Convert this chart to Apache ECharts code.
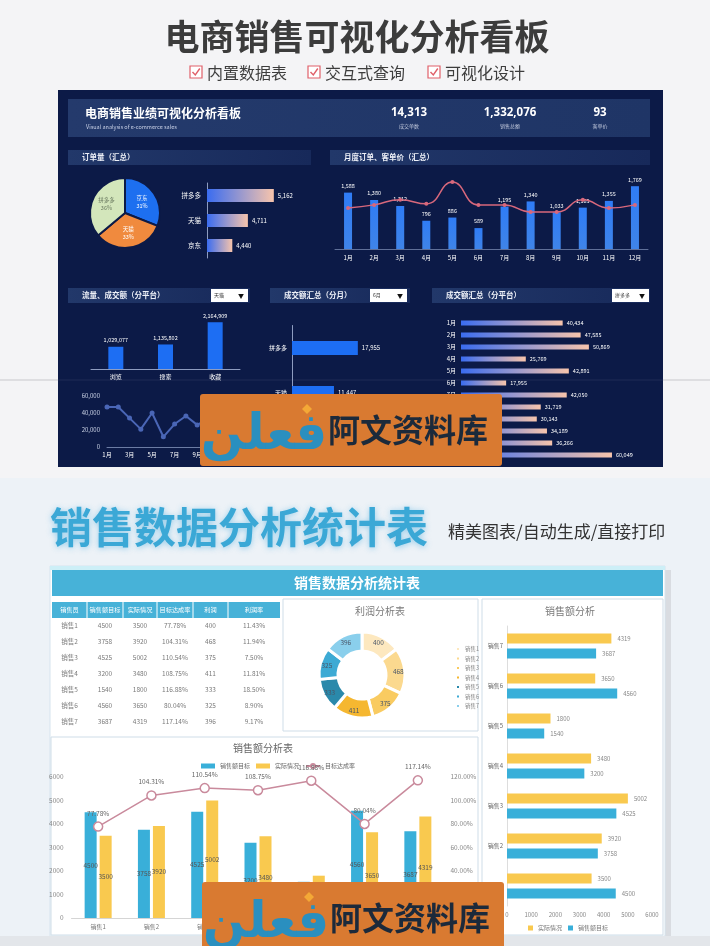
<!DOCTYPE html>
<html><head><meta charset="utf-8">
<script src="https://cdn.jsdelivr.net/npm/echarts@6/dist/echarts.min.js"></script>
<style>html,body{margin:0;padding:0;background:#f4f4f6}#c{width:710px;height:946px}</style>
</head><body><div id="c"></div>
<script>
// ---------- DATA ----------
const kpiValues = ['14,313', '1,332,076', '93'];
const kpiLabels = ['成交单数', '销售总额', '客单价'];
const platforms = ['拼多多', '天猫', '京东'];
const platformOrders = [5162, 4711, 4440];
const months = ['1月','2月','3月','4月','5月','6月','7月','8月','9月','10月','11月','12月'];
const monthOrders = [1588, 1380, 1212, 796, 886, 589, 1195, 1340, 1033, 1165, 1355, 1769];
const monthPrice = [81, 87, 97, 89, 132, 87, 87, 73, 73, 97, 81, 87];
const trafficCats = ['浏览', '搜索', '收藏'];
const trafficValues = [1029077, 1135802, 2164909];
const tmallMonthly = [47000, 47000, 34000, 21000, 40000, 12000, 27000, 36500, 26000, 33000, 30000, 44000];
const junePlatformValues = [17955, 11447, 9200];
const pddMonthly = [40434, 47585, 50869, 25769, 42891, 17955, 42050, 31719, 30143, 34189, 36266, 60049];
const dropdowns = ['天猫', '6月', '拼多多'];

const salesPeople = ['销售1','销售2','销售3','销售4','销售5','销售6','销售7'];
const salesTarget = [4500, 3758, 4525, 3200, 1540, 4560, 3687];
const salesActual = [3500, 3920, 5002, 3480, 1800, 3650, 4319];
const achieveRate = [0.7778, 1.0431, 1.1054, 1.0875, 1.1688, 0.8004, 1.1714];
const profit = [400, 468, 375, 411, 333, 325, 396];
const profitRate = ['11.43%', '11.94%', '7.50%', '11.81%', '18.50%', '8.90%', '9.17%'];
const tableHeaders = ['销售员', '销售额目标', '实际情况', '目标达成率', '利润', '利润率'];
const checklist = ['内置数据表', '交互式查询', '可视化设计'];

// ---------- STYLE ----------
const FF = '"Noto Sans CJK SC","Noto Sans",sans-serif';
const fmt = v => Number(v).toLocaleString('en-US');
const plain = v => String(v);
const pct = v => (v * 100).toFixed(2) + '%';
const hGrad = (a, b) => ({type:'linear', x:0, y:0, x2:1, y2:0, colorStops:[{offset:0,color:a},{offset:1,color:b}]});
const vGrad = (a, b) => ({type:'linear', x:0, y:0, x2:0, y2:1, colorStops:[{offset:0,color:a},{offset:1,color:b}]});
const DARK = '#0c1a47';
const BLUE = '#39afd9', YEL = '#f9c94f';

const G = [];
function rect(x, y, w, h, style, z) { G.push({type:'rect', shape:{x, y, width:w, height:h}, style, z: z === undefined ? -5 : z, silent:true}); }
function line(x1, y1, x2, y2, stroke, w, z) { G.push({type:'line', shape:{x1, y1, x2, y2}, style:{stroke, lineWidth:w || 1}, z: z === undefined ? -4 : z, silent:true}); }
function text(t, x, y, size, fill, o) {
  o = o || {};
  G.push({type:'text', x, y, z: o.z === undefined ? 5 : o.z, silent:true,
    style: Object.assign({text:t, fontSize:size, fill, fontFamily:o.ff || FF, fontWeight:o.bold ? 'bold' : 'normal',
      align:o.align || 'left', verticalAlign:'middle'}, o.style || {})});
}

// page backgrounds
rect(0, 0, 710, 478, {fill:'#f4f4f6'}, -10);
rect(0, 478, 710, 468, {fill:'#edf2f7'}, -10);
line(0, 380, 710, 380, '#c8c8cc', 1, -9);
text('电商销售可视化分析看板', 357, 37, 35, '#3c3c3c', {bold:true, align:'center'});
const ckX = [190, 308, 428];
checklist.forEach((t, i) => {
  rect(ckX[i], 66, 12, 12, {fill:'#fff', stroke:'#e0606a', lineWidth:1.2}, 4);
  G.push({type:'polyline', shape:{points:[[ckX[i]+2.5,72],[ckX[i]+5.3,75],[ckX[i]+9.8,68.5]]}, style:{stroke:'#e0606a', lineWidth:1.4, fill:null}, z:5, silent:true});
  text(t, ckX[i] + 17, 72.5, 16, '#3d3d3d');
});

// dark dashboard
rect(58, 90, 605, 377, {fill:DARK}, -8);
line(58, 380, 663, 380, 'rgba(255,255,255,0.08)', 1, -6);
rect(68, 99, 582, 38, {fill:hGrad('#243a6c', '#1f3566')}, -7);
text('电商销售业绩可视化分析看板', 85, 113, 12, '#ffffff', {bold:true});
text('Visual analysis of e-commerce sales', 86, 127, 5.5, '#c8d0e6');
const kpiX = [409, 510, 600];
kpiValues.forEach((v, i) => {
  text(v, kpiX[i], 113, 11.5, '#ffffff', {bold:true, align:'center', ff:'"Noto Sans",sans-serif'});
  text(kpiLabels[i], kpiX[i], 126, 5, '#c0c8dc', {align:'center'});
});
const secBars = [[68,150,243,'订单量（汇总）'],[330,150,320,'月度订单、客单价（汇总）'],
  [68,288,182,'流量、成交额（分平台）'],[270,288,140,'成交额汇总（分月）'],[432,288,218,'成交额汇总（分平台）']];
secBars.forEach(b => {
  rect(b[0], b[1], b[2], 15, {fill:hGrad('#22386a', '#17295a')}, -7);
  text(b[3], b[0] + 14, b[1] + 7.5, 7.5, '#eef1f8', {bold:true});
});
const ddX = [211, 370, 612];
dropdowns.forEach((t, i) => {
  rect(ddX[i], 289, 37, 13, {fill:'#ffffff'}, 4);
  text(t, ddX[i] + 3, 295.5, 5, '#333');
  text('▼', ddX[i] + 33, 295.5, 6, '#111', {align:'right'});
});

// bottom section
text('销售数据分析统计表', 239, 527, 42, '#3ba8d6', {bold:true, align:'center',
  style:{textShadowBlur:6, textShadowColor:'rgba(70,170,220,0.55)', textShadowOffsetY:1}});
text('精美图表/自动生成/直接打印', 448, 532, 17, '#333333');
rect(665, 570, 6, 368, {fill:'#d9dce1'}, -9);
rect(50, 566, 615, 370, {fill:'#ffffff', stroke:'#d6e4ee', lineWidth:1}, -9);
rect(0, 936, 710, 10, {fill:'#e3e6ea'}, -9);
rect(50, 566, 615, 4, {fill:'#cdeff7'}, -8);
rect(52, 570, 611, 26, {fill:'#47b2d8'}, -8);
text('销售数据分析统计表', 357, 583, 14, '#ffffff', {bold:true, align:'center'});
// table
const colEdges = [52, 87, 123, 157, 193, 228, 280];
rect(52, 602, 228, 16, {fill:'#47b2d8'}, -7);
for (let i = 1; i < colEdges.length - 1; i++) line(colEdges[i], 602, colEdges[i], 618, '#ffffff', 1, -6);
tableHeaders.forEach((h, i) => text(h, (colEdges[i] + colEdges[i+1]) / 2, 610, 6.2, '#ffffff', {align:'center'}));
salesPeople.forEach((p, r) => {
  const row = [p, salesTarget[r], salesActual[r], pct(achieveRate[r]), profit[r], profitRate[r]];
  row.forEach((c, i) => text(String(c), (colEdges[i] + colEdges[i+1]) / 2, 626 + r * 16, 6.5, '#7a7a7a', {align:'center'}));
});
// panels
rect(283, 599, 195, 132, {fill:'#ffffff', stroke:'#cfdde8', lineWidth:1}, -7);
rect(482, 599, 181, 336, {fill:'#ffffff', stroke:'#cfdde8', lineWidth:1}, -7);
rect(51, 737, 427, 198, {fill:'#ffffff', stroke:'#cfdde8', lineWidth:1}, -7);
text('利润分析表', 380, 611, 10, '#7a7a7a', {align:'center'});
text('销售额分析', 570, 611, 10, '#7a7a7a', {align:'center'});
text('销售额分析表', 263, 748, 10, '#666666', {align:'center'});

// watermarks
[[200, 394], [202, 882]].forEach(w => {
  G.push({type:'rect', shape:{x:w[0], y:w[1], width:302, height:72, r:3}, style:{fill:'#d97a31'}, z:100, silent:true});
  text('فعلن', w[0] + 64, w[1] + 42, 50, '#2a8fbf', {align:'center', bold:true, ff:'"DejaVu Sans",sans-serif', z:101});
  G.push({type:'polygon', shape:{points:[[w[0]+107,w[1]+10],[w[0]+112,w[1]+15],[w[0]+107,w[1]+20],[w[0]+102,w[1]+15]]}, style:{fill:'#f4a836'}, z:102, silent:true});
  text('阿文资料库', w[0] + 128, w[1] + 36, 32, '#1c2a3b', {bold:true, z:101});
});

// ---------- AXES ----------
const hidden = {show:false};
const whiteLbl = {color:'#ffffff', fontSize:6, fontFamily:FF};
const grid = [
  {left:207, top:183, width:92, height:75},      // 0 订单量 hbar
  {left:335, top:178, width:313, height:71},     // 1 月度
  {left:91, top:315, width:149, height:54},      // 2 流量
  {left:107, top:396, width:124, height:51},     // 3 天猫月度线
  {left:292, top:325.5, width:110, height:135},  // 4 6月分平台
  {left:461, top:317, width:176, height:144},    // 5 拼多多 分月
  {left:507, top:626, width:145, height:280},    // 6 销售额分析
  {left:71.5, top:777, width:373, height:141}    // 7 销售额分析表
];
const xAxis = [
  {gridIndex:0, type:'value', min:4000, max:5600, show:false},
  {gridIndex:1, type:'category', data:months, axisLine:{lineStyle:{color:'#5f6f98'}}, axisTick:hidden, axisLabel:Object.assign({margin:6}, whiteLbl)},
  {gridIndex:2, type:'category', data:trafficCats, axisLine:{lineStyle:{color:'#8e9cc0'}}, axisTick:hidden, axisLabel:Object.assign({margin:5}, whiteLbl)},
  {gridIndex:3, type:'category', data:months, boundaryGap:false, axisLine:{lineStyle:{color:'#6c7ca4'}}, axisTick:hidden, axisLabel:Object.assign({interval:1, margin:5}, whiteLbl)},
  {gridIndex:4, type:'value', min:0, max:30000, show:false},
  {gridIndex:5, type:'value', min:0, max:70000, show:false},
  {gridIndex:6, type:'value', min:0, max:6000, interval:1000, splitLine:hidden, axisLine:hidden, axisTick:hidden, axisLabel:{color:'#888', fontSize:6, margin:6, formatter:plain}},
  {gridIndex:7, type:'category', data:salesPeople, axisLine:{lineStyle:{color:'#d5d5d5'}}, axisTick:hidden, axisLabel:{color:'#777', fontSize:6, margin:6}}
];
const yAxis = [
  {gridIndex:0, type:'category', data:platforms, inverse:true, axisLine:{lineStyle:{color:'#8e9cc0'}}, axisTick:hidden, axisLabel:Object.assign({}, whiteLbl, {fontSize:6.5, margin:6})},
  {gridIndex:1, type:'value', min:0, max:2000, show:false},
  {gridIndex:1, type:'value', min:0, max:140, show:false},
  {gridIndex:2, type:'value', min:0, max:2500000, show:false},
  {gridIndex:3, type:'value', min:0, max:60000, interval:20000, splitLine:hidden, axisLine:hidden, axisTick:hidden, axisLabel:{color:'#c9d1e4', fontSize:6, margin:7, formatter:fmt}},
  {gridIndex:4, type:'category', data:platforms, inverse:true, axisLine:{lineStyle:{color:'#8e9cc0'}}, axisTick:hidden, axisLabel:Object.assign({}, whiteLbl, {margin:5})},
  {gridIndex:5, type:'category', data:months, inverse:true, axisLine:hidden, axisTick:hidden, axisLabel:Object.assign({}, whiteLbl, {margin:5})},
  {gridIndex:6, type:'category', data:salesPeople, axisLine:{lineStyle:{color:'#dddddd'}}, axisTick:hidden, axisLabel:{color:'#666', fontSize:6, margin:4}},
  {gridIndex:7, type:'value', min:0, max:6000, interval:1000, splitLine:hidden, axisLine:hidden, axisTick:hidden, axisLabel:{color:'#888', fontSize:6.5, margin:8, formatter:plain}},
  {gridIndex:7, type:'value', min:0, max:1.2, interval:0.2, splitLine:hidden, axisLine:hidden, axisTick:hidden, axisLabel:{color:'#888', fontSize:6.5, margin:6, formatter:pct}}
];

// ---------- SERIES ----------
const pieOrder = [2, 1, 0]; // 京东, 天猫, 拼多多 clockwise from top
const pieColors = ['#1d6ff0', '#f08a3e', '#d3e6bb'];
const donutColors = ['#fde8bf', '#fbd98f', '#f9cb61', '#f5b730', '#2a89ab', '#3daad4', '#8acfec'];
const valLbl = (pos, color, size) => ({show:true, position:pos, color, fontSize:size, formatter:p => fmt(p.value), distance:4});

const series = [
  {type:'pie', center:[125,213], radius:35, startAngle:90, clockwise:true, percentPrecision:0, silent:true,
   itemStyle:{borderColor:DARK, borderWidth:2},
   label:{position:'inner', formatter:'{b}\n{d}%', fontSize:5.5, lineHeight:8},
   labelLine:{show:false},
   data: pieOrder.map((k, i) => ({name:platforms[k], value:platformOrders[k], itemStyle:{color:pieColors[i]}, label:{color: i === 2 ? '#6a7a60' : '#ffffff'}}))},
  {type:'bar', xAxisIndex:0, yAxisIndex:0, data:platformOrders, barWidth:13,
   itemStyle:{color:hGrad('#3a6cf0', '#f7c4ac')}, label:valLbl('right', '#ffffff', 6)},
  {type:'bar', xAxisIndex:1, yAxisIndex:1, data:monthOrders, barWidth:8,
   itemStyle:{color:vGrad('#2f7cf6', '#3f84e8')}, label:valLbl('top', '#ffffff', 5.5)},
  {type:'line', xAxisIndex:1, yAxisIndex:2, data:monthPrice, smooth:true, symbol:'circle', symbolSize:4,
   lineStyle:{color:'#d8687c', width:1.5}, itemStyle:{color:'#d8687c'}},
  {type:'bar', xAxisIndex:2, yAxisIndex:3, data:trafficValues, barWidth:15,
   itemStyle:{color:'#1d6ef3'}, label:valLbl('top', '#ffffff', 5.5)},
  {type:'line', xAxisIndex:3, yAxisIndex:4, data:tmallMonthly, symbol:'circle', symbolSize:5,
   lineStyle:{color:'#4a66b6', width:2}, itemStyle:{color:'#4a66b6'}},
  {type:'bar', xAxisIndex:4, yAxisIndex:5, data:junePlatformValues, barWidth:14,
   itemStyle:{color:'#1d6ef3'}, label:valLbl('right', '#ffffff', 6)},
  {type:'bar', xAxisIndex:5, yAxisIndex:6, data:pddMonthly, barWidth:5,
   itemStyle:{color:hGrad('#3a6cf0', '#f7c4ac')}, label:valLbl('right', '#ffffff', 5.5)},
  {type:'pie', name:'利润', center:[362,675], radius:[24,43], startAngle:90, clockwise:true, silent:true,
   itemStyle:{borderColor:'#ffffff', borderWidth:3},
   label:{position:'inside', formatter:'{c}', fontSize:6.5, color:'#4a5668'},
   labelLine:{show:false},
   data: salesPeople.map((n, i) => ({name:n, value:profit[i], itemStyle:{color:donutColors[i]}}))},
  {type:'bar', name:'实际情况', xAxisIndex:6, yAxisIndex:7, data:salesActual, barWidth:10, barGap:'50%',
   itemStyle:{color:YEL}, label:{show:true, position:'right', color:'#888', fontSize:6, distance:6}},
  {type:'bar', name:'销售额目标', xAxisIndex:6, yAxisIndex:7, data:salesTarget, barWidth:10, barGap:'50%',
   itemStyle:{color:BLUE}, label:{show:true, position:'right', color:'#888', fontSize:6, distance:6}},
  {type:'bar', name:'销售额目标', xAxisIndex:7, yAxisIndex:8, data:salesTarget, barWidth:12, barGap:'25%',
   itemStyle:{color:BLUE}, label:{show:true, position:'inside', color:'#555', fontSize:6.5}},
  {type:'bar', name:'实际情况', xAxisIndex:7, yAxisIndex:8, data:salesActual, barWidth:12, barGap:'25%',
   itemStyle:{color:YEL}, label:{show:true, position:'inside', color:'#555', fontSize:6.5}},
  {type:'line', name:'目标达成率', xAxisIndex:7, yAxisIndex:9, data:achieveRate, symbol:'circle', symbolSize:9,
   lineStyle:{color:'#c98a9c', width:1.5}, itemStyle:{color:'#ffffff', borderColor:'#c98a9c', borderWidth:1.5},
   label:{show:true, position:'top', color:'#666', fontSize:6.5, formatter:p => pct(p.value), distance:5}, z:5}
];

const legend = [
  {data:salesPeople, orient:'vertical', left:450, top:641, itemWidth:4, itemHeight:4, itemGap:3.5, icon:'rect',
   textStyle:{fontSize:5.5, color:'#888'}, selectedMode:false},
  {data:['实际情况', '销售额目标'], left:523, top:920, itemWidth:5, itemHeight:5, itemGap:6, icon:'rect',
   textStyle:{fontSize:6, color:'#777'}, selectedMode:false},
  {data:[{name:'销售额目标', icon:'rect'}, {name:'实际情况', icon:'rect'}, {name:'目标达成率'}], left:196, top:758,
   itemWidth:14, itemHeight:5, itemGap:6, textStyle:{fontSize:6, color:'#666'}, selectedMode:false}
];

const chart = echarts.init(document.getElementById('c'));
chart.setOption({
  animation:false,
  textStyle:{fontFamily:FF},
  grid, xAxis, yAxis, series, legend,
  graphic:{elements:G}
});
</script></body></html>
